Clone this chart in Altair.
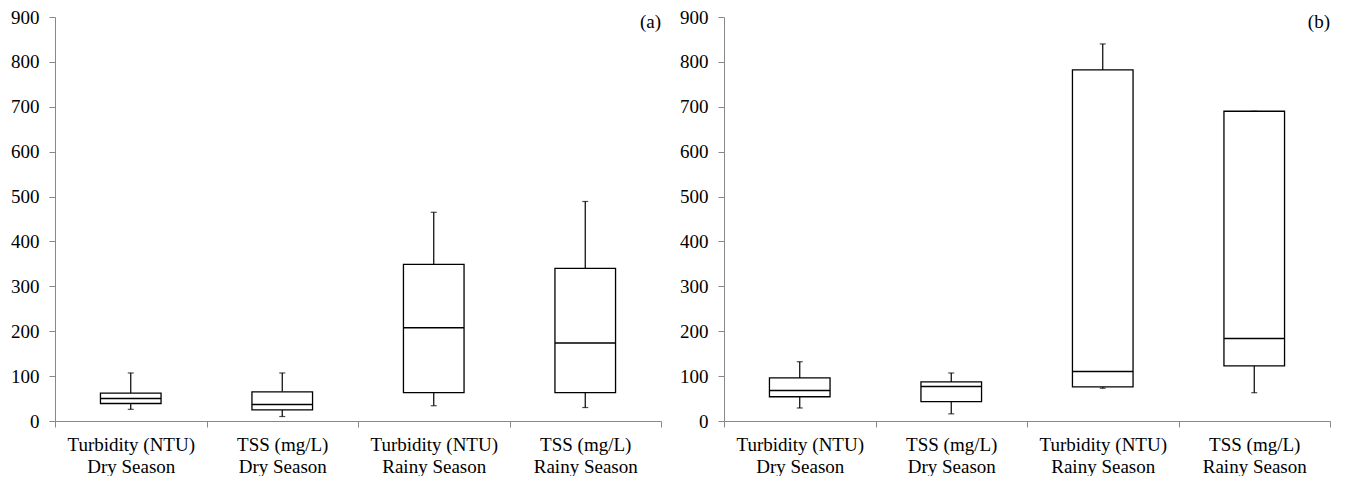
import altair as alt
import pandas as pd

categories = ["Turbidity (NTU)|Dry Season", "TSS (mg/L)|Dry Season",
              "Turbidity (NTU)|Rainy Season", "TSS (mg/L)|Rainy Season"]

# panel (a)
a_min = [26, 10, 34, 30]
a_q1 = [39, 25, 63, 63]
a_med = [50, 37, 208, 174]
a_q3 = [62, 65, 349, 340]
a_max = [107, 107, 465, 489]

# panel (b)
b_min = [29, 16, 73, 63]
b_q1 = [54, 43, 76, 123]
b_med = [68, 77, 110, 184]
b_q3 = [96, 87, 782, 690]
b_max = [132, 107, 840, 690]

y_ticks = list(range(0, 1000, 100))

FONT = "Liberation Serif"
W, H = 606, 404


def panel(lo, q1, med, q3, hi, tag):
    df = pd.DataFrame({"cat": categories, "lo": lo, "q1": q1, "med": med, "q3": q3, "hi": hi})
    base = alt.Chart(df)
    x = alt.X("cat:N", sort=categories, title=None,
              scale=alt.Scale(paddingInner=0, paddingOuter=0),
              axis=alt.Axis(labelAngle=0, labelExpr="split(datum.label, '|')",
                            tickBand="extent", labelPadding=8, grid=False,
                            labelFont=FONT, labelFontSize=19))
    yscale = alt.Scale(domain=[0, 900], nice=False)
    yaxis = alt.Axis(values=y_ticks, grid=False, labelPadding=10, title=None,
                     labelFont=FONT, labelFontSize=19)
    whisk_lo = base.mark_rule(color="black", strokeWidth=1.2).encode(
        x=x, y=alt.Y("lo:Q", scale=yscale, axis=yaxis), y2="q1:Q")
    whisk_hi = base.mark_rule(color="black", strokeWidth=1.2).encode(
        x=x, y=alt.Y("q3:Q", scale=yscale, axis=yaxis), y2="hi:Q")
    box = base.mark_bar(fill="white", stroke="black", strokeWidth=1.3,
                        width={"band": 0.4}).encode(
        x=x, y=alt.Y("q1:Q", scale=yscale, axis=yaxis), y2="q3:Q")
    median = base.mark_bar(fill="white", stroke="black", strokeWidth=1.5,
                           width={"band": 0.4}).encode(
        x=x, y=alt.Y("med:Q", scale=yscale, axis=yaxis), y2="med:Q")
    cap_lo = base.mark_tick(color="black", size=6, thickness=1.2).encode(
        x=x, y=alt.Y("lo:Q", scale=yscale, axis=yaxis))
    cap_hi = base.mark_tick(color="black", size=6, thickness=1.2).encode(
        x=x, y=alt.Y("hi:Q", scale=yscale, axis=yaxis))
    label = alt.Chart(pd.DataFrame({"t": [tag]})).mark_text(
        font=FONT, fontSize=19, align="right", baseline="middle", color="black").encode(
        text="t:N", x=alt.value(W), y=alt.value(5))
    return alt.layer(whisk_lo, whisk_hi, cap_lo, cap_hi, box, median, label).properties(
        width=W, height=H)


chart = alt.hconcat(
    panel(a_min, a_q1, a_med, a_q3, a_max, "(a)"),
    panel(b_min, b_q1, b_med, b_q3, b_max, "(b)"),
    spacing=17,
).properties(
    padding={"left": 2, "top": 0, "right": 0, "bottom": 0}
).configure(background="white", font=FONT).configure_view(stroke=None).configure_axis(
    labelFont=FONT, labelFontSize=19, labelColor="black", labelLineHeight=22,
    domainColor="#888888", tickColor="#888888", tickSize=6, grid=False
)

chart.save("out.html", embed_options={"renderer": "svg", "actions": False})
